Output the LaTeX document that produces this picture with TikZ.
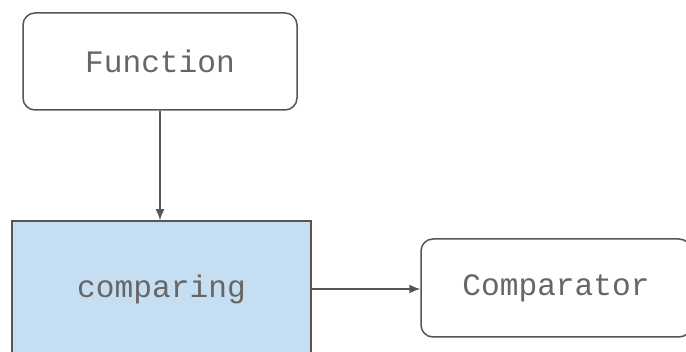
\documentclass[tikz,border=0pt]{standalone}
\usepackage{fontspec}
\setmonofont{Liberation Mono}
\usetikzlibrary{arrows.meta}
\definecolor{boxline}{HTML}{555555}
\definecolor{boxtext}{HTML}{666666}
\definecolor{bluefill}{HTML}{C6DEF2}
\tikzset{
  rbox/.style={draw=boxline, line width=0.75pt, rounded corners=6pt, fill=white,
    text=boxtext, font=\ttfamily\fontsize{15.6}{18}\selectfont, inner sep=0pt},
  bbox/.style={draw=boxline, line width=0.75pt, fill=bluefill,
    text=boxtext, font=\ttfamily\fontsize{15.6}{18}\selectfont, inner sep=0pt},
  conn/.style={draw=boxline, line width=0.75pt, -{Latex[length=5.5pt,width=4.5pt]}}
}
\begin{document}
\begin{tikzpicture}[x=0.5pt,y=-0.5pt]
\useasboundingbox (0,0) rectangle (686,352);
\clip (0,0) rectangle (686,352);
\fill[white] (0,0) rectangle (686,352);
\node[rbox, minimum width=137pt, minimum height=48.5pt] (Function) at (160,61.5) {Function};
\node[bbox, minimum width=149.5pt, minimum height=68pt] (comparing) at (161.5,289) {comparing};
\node[rbox, minimum width=135pt, minimum height=49pt] (Comparator) at (556,288) {Comparator};
\draw[conn] (Function.south) -- (Function.south |- comparing.north);
\draw[conn] (comparing.east) -- (comparing.east -| Comparator.west);
\end{tikzpicture}
\end{document}
